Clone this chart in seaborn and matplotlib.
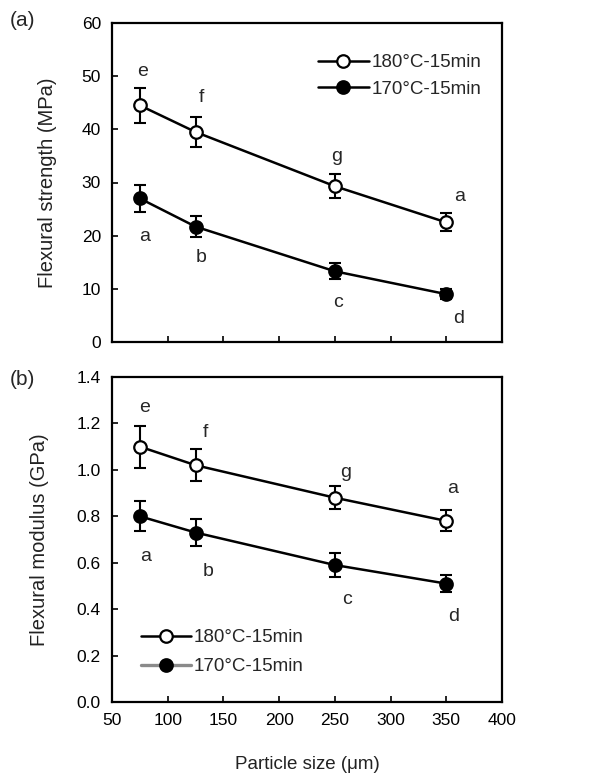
import numpy as np
import pandas as pd
import matplotlib
matplotlib.use("Agg")
import matplotlib.pyplot as plt
from matplotlib.lines import Line2D
import seaborn as sns

sizes = [75, 125, 250, 350]
series_names = ["180°C-15min", "170°C-15min"]

strength_180 = [44.5, 39.5, 29.3, 22.5]
strength_180_err = [3.3, 2.8, 2.3, 1.7]
strength_170 = [27.0, 21.7, 13.3, 9.0]
strength_170_err = [2.5, 2.0, 1.5, 1.0]

modulus_180 = [1.10, 1.02, 0.88, 0.78]
modulus_180_err = [0.09, 0.07, 0.05, 0.045]
modulus_170 = [0.80, 0.73, 0.59, 0.51]
modulus_170_err = [0.065, 0.06, 0.05, 0.035]

letters_180 = ["e", "f", "g", "a"]
letters_170 = ["a", "b", "c", "d"]

# letter positions (x, y)
a_pos_180 = [(77, 50.8), (130, 45.9), (252, 34.8), (362, 27.3)]
a_pos_170 = [(79, 19.8), (130, 15.8), (253, 7.5), (361, 4.5)]
b_pos_180 = [(79, 1.27), (134, 1.16), (260, 0.99), (356, 0.92)]
b_pos_170 = [(80, 0.625), (136, 0.56), (261, 0.44), (357, 0.37)]

sns.set_style("ticks")
plt.rcParams["font.family"] = ["Liberation Sans", "DejaVu Sans"]

fig = plt.figure(figsize=(6.10, 7.78), dpi=100)
ax1 = fig.add_axes([112/610, 1-342/778, 390/610, 319/778])
ax2 = fig.add_axes([112/610, 1-702/778, 390/610, 325/778])

MS = 9
LW = 1.8


def draw(ax, y180, e180, y170, e170):
    df = pd.DataFrame({
        "size": sizes * 2,
        "value": list(y180) + list(y170),
        "series": [series_names[0]] * 4 + [series_names[1]] * 4,
    })
    ax.errorbar(sizes, y180, yerr=e180, fmt="none", ecolor="black",
                elinewidth=1.5, capsize=4.5, capthick=1.5, zorder=2)
    ax.errorbar(sizes, y170, yerr=e170, fmt="none", ecolor="black",
                elinewidth=1.5, capsize=4.5, capthick=1.5, zorder=2)
    sns.lineplot(data=df[df.series == series_names[0]], x="size", y="value",
                 ax=ax, color="black", lw=LW, marker="o", markersize=MS,
                 markerfacecolor="white", markeredgecolor="black",
                 markeredgewidth=1.6, legend=False, zorder=3)
    sns.lineplot(data=df[df.series == series_names[1]], x="size", y="value",
                 ax=ax, color="black", lw=LW, marker="o", markersize=MS,
                 markerfacecolor="black", markeredgecolor="black",
                 markeredgewidth=1.6, legend=False, zorder=3)


draw(ax1, strength_180, strength_180_err, strength_170, strength_170_err)
draw(ax2, modulus_180, modulus_180_err, modulus_170, modulus_170_err)

for ax in (ax1, ax2):
    ax.set_xlim(50, 400)
    ax.set_xticks(np.arange(50, 401, 50))
    ax.tick_params(direction="in", length=4, width=1.2, labelsize=12.5,
                   colors="black", pad=8)
    for s in ax.spines.values():
        s.set_linewidth(1.6)
        s.set_color("black")
    ax.set_ylabel("")

ax1.set_ylim(0, 60)
ax1.set_yticks(np.arange(0, 61, 10))
ax1.set_xticklabels([])
ax1.set_xlabel("")
ax1.set_ylabel("Flexural strength (MPa)", fontsize=14.5, labelpad=18,
               color="#222222")

ax2.set_ylim(0, 1.4)
ax2.set_yticks(np.arange(0, 1.41, 0.2))
ax2.set_yticklabels([f"{v:.1f}" for v in np.arange(0, 1.41, 0.2)])
ax2.set_xlabel("Particle size (μm)", fontsize=13.5, labelpad=20,
               color="#222222")
ax2.set_ylabel("Flexural modulus (GPa)", fontsize=14.5, labelpad=20,
               color="#222222")

for (x, y), t in zip(a_pos_180, letters_180):
    ax1.text(x, y, t, fontsize=14, ha="center", va="center")
for (x, y), t in zip(a_pos_170, letters_170):
    ax1.text(x, y, t, fontsize=14, ha="center", va="center")
for (x, y), t in zip(b_pos_180, letters_180):
    ax2.text(x, y, t, fontsize=14, ha="center", va="center")
for (x, y), t in zip(b_pos_170, letters_170):
    ax2.text(x, y, t, fontsize=14, ha="center", va="center")

h1 = Line2D([], [], color="black", lw=LW, marker="o", markersize=MS,
            markerfacecolor="white", markeredgecolor="black", markeredgewidth=1.6)
h2 = Line2D([], [], color="black", lw=LW, marker="o", markersize=MS,
            markerfacecolor="black", markeredgecolor="black", markeredgewidth=1.6)
h2g = Line2D([], [], color="#8a8a8a", lw=2.4, marker="o", markersize=MS,
             markerfacecolor="black", markeredgecolor="black", markeredgewidth=1.6)

ax1.legend([h1, h2], series_names, loc="upper right", frameon=False,
           fontsize=13.5, handlelength=2.7, handletextpad=0.15,
           bbox_to_anchor=(0.99, 0.955), labelspacing=0.5)
ax2.legend([h1, h2g], series_names, loc="lower left", frameon=False,
           fontsize=13.5, handlelength=2.7, handletextpad=0.15,
           bbox_to_anchor=(0.03, 0.03), labelspacing=0.65)

fig.text(10/610, 1-20/778, "(a)", fontsize=15, ha="left", va="center")
fig.text(10/610, 1-380/778, "(b)", fontsize=15, ha="left", va="center")

fig.savefig("out.png", dpi=100)
